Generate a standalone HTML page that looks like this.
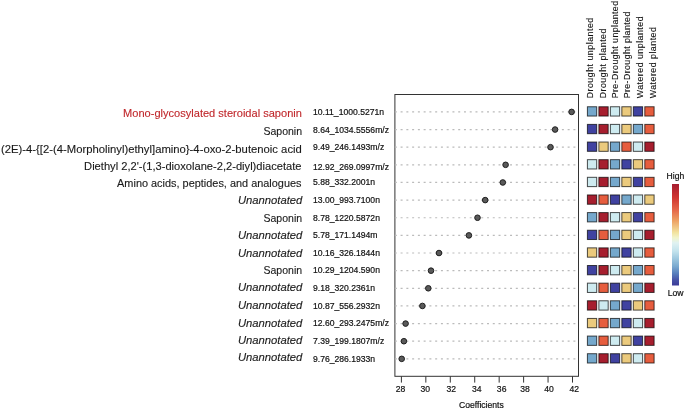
<!DOCTYPE html><html><head><meta charset="utf-8"><style>html,body{margin:0;padding:0;background:#fff;}svg{display:block;filter:blur(0.3px);}text{font-family:"Liberation Sans",sans-serif;}.s{stroke:#111;stroke-width:0.2px;}</style></head><body>
<svg width="685" height="409" viewBox="0 0 685 409">
<defs><linearGradient id="g" x1="0" y1="0" x2="0" y2="1"><stop offset="0" stop-color="#a51d30"/><stop offset="0.13" stop-color="#cf3430"/><stop offset="0.26" stop-color="#e6694a"/><stop offset="0.36" stop-color="#eda062"/><stop offset="0.48" stop-color="#f2e4a0"/><stop offset="0.53" stop-color="#f1f4cc"/><stop offset="0.58" stop-color="#e0f2f2"/><stop offset="0.66" stop-color="#c3e3ed"/><stop offset="0.73" stop-color="#a0cae0"/><stop offset="0.81" stop-color="#7aaad0"/><stop offset="0.88" stop-color="#5880bd"/><stop offset="0.95" stop-color="#4550a5"/><stop offset="1" stop-color="#3b3a98"/></linearGradient></defs>
<text x="123.10" y="117.00" font-size="10.7" fill="#c0282c" stroke="#c0282c" stroke-width="0.12" textLength="178.80" lengthAdjust="spacingAndGlyphs">Mono-glycosylated steroidal saponin</text>
<text x="313.0" y="114.60" font-size="8.6" fill="#111" class="s">10.11_1000.5271n</text>
<text x="263.40" y="134.60" font-size="10.7" fill="#1a1a1a" stroke="#1a1a1a" stroke-width="0.12" textLength="38.70" lengthAdjust="spacingAndGlyphs">Saponin</text>
<text x="313.0" y="132.60" font-size="8.6" fill="#111" class="s">8.64_1034.5556m/z</text>
<text x="1.00" y="152.50" font-size="10.7" fill="#1a1a1a" stroke="#1a1a1a" stroke-width="0.12" textLength="300.80" lengthAdjust="spacingAndGlyphs">(2E)-4-{[2-(4-Morpholinyl)ethyl]amino}-4-oxo-2-butenoic acid</text>
<text x="313.0" y="150.20" font-size="8.6" fill="#111" class="s">9.49_246.1493m/z</text>
<text x="84.10" y="169.70" font-size="10.7" fill="#1a1a1a" stroke="#1a1a1a" stroke-width="0.12" textLength="217.40" lengthAdjust="spacingAndGlyphs">Diethyl 2,2'-(1,3-dioxolane-2,2-diyl)diacetate</text>
<text x="313.0" y="169.70" font-size="8.6" fill="#111" class="s">12.92_269.0997m/z</text>
<text x="117.10" y="186.50" font-size="10.7" fill="#1a1a1a" stroke="#1a1a1a" stroke-width="0.12" textLength="184.40" lengthAdjust="spacingAndGlyphs">Amino acids, peptides, and analogues</text>
<text x="313.0" y="185.20" font-size="8.6" fill="#111" class="s">5.88_332.2001n</text>
<text x="237.90" y="204.20" font-size="10.7" fill="#1a1a1a" stroke="#1a1a1a" stroke-width="0.12" font-style="italic" textLength="64.50" lengthAdjust="spacingAndGlyphs">Unannotated</text>
<text x="313.0" y="203.20" font-size="8.6" fill="#111" class="s">13.00_993.7100n</text>
<text x="263.50" y="221.80" font-size="10.7" fill="#1a1a1a" stroke="#1a1a1a" stroke-width="0.12" textLength="38.60" lengthAdjust="spacingAndGlyphs">Saponin</text>
<text x="313.0" y="220.70" font-size="8.6" fill="#111" class="s">8.78_1220.5872n</text>
<text x="237.90" y="239.40" font-size="10.7" fill="#1a1a1a" stroke="#1a1a1a" stroke-width="0.12" font-style="italic" textLength="64.50" lengthAdjust="spacingAndGlyphs">Unannotated</text>
<text x="313.0" y="238.40" font-size="8.6" fill="#111" class="s">5.78_171.1494m</text>
<text x="237.90" y="256.80" font-size="10.7" fill="#1a1a1a" stroke="#1a1a1a" stroke-width="0.12" font-style="italic" textLength="64.50" lengthAdjust="spacingAndGlyphs">Unannotated</text>
<text x="313.0" y="255.90" font-size="8.6" fill="#111" class="s">10.16_326.1844n</text>
<text x="263.50" y="273.80" font-size="10.7" fill="#1a1a1a" stroke="#1a1a1a" stroke-width="0.12" textLength="38.60" lengthAdjust="spacingAndGlyphs">Saponin</text>
<text x="313.0" y="273.40" font-size="8.6" fill="#111" class="s">10.29_1204.590n</text>
<text x="237.90" y="291.40" font-size="10.7" fill="#1a1a1a" stroke="#1a1a1a" stroke-width="0.12" font-style="italic" textLength="64.50" lengthAdjust="spacingAndGlyphs">Unannotated</text>
<text x="313.0" y="291.20" font-size="8.6" fill="#111" class="s">9.18_320.2361n</text>
<text x="237.90" y="308.60" font-size="10.7" fill="#1a1a1a" stroke="#1a1a1a" stroke-width="0.12" font-style="italic" textLength="64.50" lengthAdjust="spacingAndGlyphs">Unannotated</text>
<text x="313.0" y="308.70" font-size="8.6" fill="#111" class="s">10.87_556.2932n</text>
<text x="237.90" y="326.50" font-size="10.7" fill="#1a1a1a" stroke="#1a1a1a" stroke-width="0.12" font-style="italic" textLength="64.50" lengthAdjust="spacingAndGlyphs">Unannotated</text>
<text x="313.0" y="326.40" font-size="8.6" fill="#111" class="s">12.60_293.2475m/z</text>
<text x="237.90" y="343.90" font-size="10.7" fill="#1a1a1a" stroke="#1a1a1a" stroke-width="0.12" font-style="italic" textLength="64.50" lengthAdjust="spacingAndGlyphs">Unannotated</text>
<text x="313.0" y="343.70" font-size="8.6" fill="#111" class="s">7.39_199.1807m/z</text>
<text x="237.90" y="360.60" font-size="10.7" fill="#1a1a1a" stroke="#1a1a1a" stroke-width="0.12" font-style="italic" textLength="64.50" lengthAdjust="spacingAndGlyphs">Unannotated</text>
<text x="313.0" y="361.60" font-size="8.6" fill="#111" class="s">9.76_286.1933n</text>
<rect x="394.9" y="94.5" width="183.6" height="281.8" fill="none" stroke="#333" stroke-width="1"/>
<line x1="394.84" y1="111.90" x2="578.0" y2="111.90" stroke="#bbb" stroke-width="1.2" stroke-dasharray="2 3.76"/>
<line x1="394.84" y1="129.54" x2="578.0" y2="129.54" stroke="#bbb" stroke-width="1.2" stroke-dasharray="2 3.76"/>
<line x1="394.84" y1="147.18" x2="578.0" y2="147.18" stroke="#bbb" stroke-width="1.2" stroke-dasharray="2 3.76"/>
<line x1="394.84" y1="164.82" x2="578.0" y2="164.82" stroke="#bbb" stroke-width="1.2" stroke-dasharray="2 3.76"/>
<line x1="394.84" y1="182.46" x2="578.0" y2="182.46" stroke="#bbb" stroke-width="1.2" stroke-dasharray="2 3.76"/>
<line x1="394.84" y1="200.10" x2="578.0" y2="200.10" stroke="#bbb" stroke-width="1.2" stroke-dasharray="2 3.76"/>
<line x1="394.84" y1="217.74" x2="578.0" y2="217.74" stroke="#bbb" stroke-width="1.2" stroke-dasharray="2 3.76"/>
<line x1="394.84" y1="235.38" x2="578.0" y2="235.38" stroke="#bbb" stroke-width="1.2" stroke-dasharray="2 3.76"/>
<line x1="394.84" y1="253.02" x2="578.0" y2="253.02" stroke="#bbb" stroke-width="1.2" stroke-dasharray="2 3.76"/>
<line x1="394.84" y1="270.66" x2="578.0" y2="270.66" stroke="#bbb" stroke-width="1.2" stroke-dasharray="2 3.76"/>
<line x1="394.84" y1="288.30" x2="578.0" y2="288.30" stroke="#bbb" stroke-width="1.2" stroke-dasharray="2 3.76"/>
<line x1="394.84" y1="305.94" x2="578.0" y2="305.94" stroke="#bbb" stroke-width="1.2" stroke-dasharray="2 3.76"/>
<line x1="394.84" y1="323.58" x2="578.0" y2="323.58" stroke="#bbb" stroke-width="1.2" stroke-dasharray="2 3.76"/>
<line x1="394.84" y1="341.22" x2="578.0" y2="341.22" stroke="#bbb" stroke-width="1.2" stroke-dasharray="2 3.76"/>
<line x1="394.84" y1="358.86" x2="578.0" y2="358.86" stroke="#bbb" stroke-width="1.2" stroke-dasharray="2 3.76"/>
<circle cx="571.6" cy="111.90" r="2.8" fill="#5a5a5a" stroke="#1e1e1e" stroke-width="1"/>
<circle cx="555.1" cy="129.54" r="2.8" fill="#5a5a5a" stroke="#1e1e1e" stroke-width="1"/>
<circle cx="550.5" cy="147.18" r="2.8" fill="#5a5a5a" stroke="#1e1e1e" stroke-width="1"/>
<circle cx="505.6" cy="164.82" r="2.8" fill="#5a5a5a" stroke="#1e1e1e" stroke-width="1"/>
<circle cx="502.8" cy="182.46" r="2.8" fill="#5a5a5a" stroke="#1e1e1e" stroke-width="1"/>
<circle cx="485.2" cy="200.10" r="2.8" fill="#5a5a5a" stroke="#1e1e1e" stroke-width="1"/>
<circle cx="477.5" cy="217.74" r="2.8" fill="#5a5a5a" stroke="#1e1e1e" stroke-width="1"/>
<circle cx="468.9" cy="235.38" r="2.8" fill="#5a5a5a" stroke="#1e1e1e" stroke-width="1"/>
<circle cx="439.0" cy="253.02" r="2.8" fill="#5a5a5a" stroke="#1e1e1e" stroke-width="1"/>
<circle cx="431.0" cy="270.66" r="2.8" fill="#5a5a5a" stroke="#1e1e1e" stroke-width="1"/>
<circle cx="428.3" cy="288.30" r="2.8" fill="#5a5a5a" stroke="#1e1e1e" stroke-width="1"/>
<circle cx="422.4" cy="305.94" r="2.8" fill="#5a5a5a" stroke="#1e1e1e" stroke-width="1"/>
<circle cx="405.6" cy="323.58" r="2.8" fill="#5a5a5a" stroke="#1e1e1e" stroke-width="1"/>
<circle cx="403.9" cy="341.22" r="2.8" fill="#5a5a5a" stroke="#1e1e1e" stroke-width="1"/>
<circle cx="401.7" cy="358.86" r="2.8" fill="#5a5a5a" stroke="#1e1e1e" stroke-width="1"/>
<line x1="401.40" y1="376.3" x2="401.40" y2="382.6" stroke="#333" stroke-width="1"/>
<text x="400.50" y="391.8" font-size="8.6" text-anchor="middle" fill="#111" class="s">28</text>
<line x1="425.84" y1="376.3" x2="425.84" y2="382.6" stroke="#333" stroke-width="1"/>
<text x="425.30" y="391.8" font-size="8.6" text-anchor="middle" fill="#111" class="s">30</text>
<line x1="450.29" y1="376.3" x2="450.29" y2="382.6" stroke="#333" stroke-width="1"/>
<text x="451.30" y="391.8" font-size="8.6" text-anchor="middle" fill="#111" class="s">32</text>
<line x1="474.73" y1="376.3" x2="474.73" y2="382.6" stroke="#333" stroke-width="1"/>
<text x="476.80" y="391.8" font-size="8.6" text-anchor="middle" fill="#111" class="s">34</text>
<line x1="499.17" y1="376.3" x2="499.17" y2="382.6" stroke="#333" stroke-width="1"/>
<text x="501.65" y="391.8" font-size="8.6" text-anchor="middle" fill="#111" class="s">36</text>
<line x1="523.61" y1="376.3" x2="523.61" y2="382.6" stroke="#333" stroke-width="1"/>
<text x="525.10" y="391.8" font-size="8.6" text-anchor="middle" fill="#111" class="s">38</text>
<line x1="548.06" y1="376.3" x2="548.06" y2="382.6" stroke="#333" stroke-width="1"/>
<text x="549.10" y="391.8" font-size="8.6" text-anchor="middle" fill="#111" class="s">40</text>
<line x1="572.50" y1="376.3" x2="572.50" y2="382.6" stroke="#333" stroke-width="1"/>
<text x="574.20" y="391.8" font-size="8.6" text-anchor="middle" fill="#111" class="s">42</text>
<text x="481.4" y="407.8" font-size="8.6" text-anchor="middle" fill="#111" class="s">Coefficients</text>
<rect x="587.40" y="106.75" width="9.30" height="9.30" fill="#75a8cc" stroke="#000" stroke-opacity="0.7" stroke-width="1"/>
<rect x="598.88" y="106.75" width="9.30" height="9.30" fill="#a61e2e" stroke="#000" stroke-opacity="0.7" stroke-width="1"/>
<rect x="610.36" y="106.75" width="9.30" height="9.30" fill="#ceebf0" stroke="#000" stroke-opacity="0.7" stroke-width="1"/>
<rect x="621.84" y="106.75" width="9.30" height="9.30" fill="#ebca7d" stroke="#000" stroke-opacity="0.7" stroke-width="1"/>
<rect x="633.32" y="106.75" width="9.30" height="9.30" fill="#4042a0" stroke="#000" stroke-opacity="0.7" stroke-width="1"/>
<rect x="644.80" y="106.75" width="9.30" height="9.30" fill="#e65d3e" stroke="#000" stroke-opacity="0.7" stroke-width="1"/>
<rect x="587.40" y="124.39" width="9.30" height="9.30" fill="#4042a0" stroke="#000" stroke-opacity="0.7" stroke-width="1"/>
<rect x="598.88" y="124.39" width="9.30" height="9.30" fill="#a61e2e" stroke="#000" stroke-opacity="0.7" stroke-width="1"/>
<rect x="610.36" y="124.39" width="9.30" height="9.30" fill="#ceebf0" stroke="#000" stroke-opacity="0.7" stroke-width="1"/>
<rect x="621.84" y="124.39" width="9.30" height="9.30" fill="#ebca7d" stroke="#000" stroke-opacity="0.7" stroke-width="1"/>
<rect x="633.32" y="124.39" width="9.30" height="9.30" fill="#75a8cc" stroke="#000" stroke-opacity="0.7" stroke-width="1"/>
<rect x="644.80" y="124.39" width="9.30" height="9.30" fill="#e65d3e" stroke="#000" stroke-opacity="0.7" stroke-width="1"/>
<rect x="587.40" y="142.03" width="9.30" height="9.30" fill="#4042a0" stroke="#000" stroke-opacity="0.7" stroke-width="1"/>
<rect x="598.88" y="142.03" width="9.30" height="9.30" fill="#ebca7d" stroke="#000" stroke-opacity="0.7" stroke-width="1"/>
<rect x="610.36" y="142.03" width="9.30" height="9.30" fill="#75a8cc" stroke="#000" stroke-opacity="0.7" stroke-width="1"/>
<rect x="621.84" y="142.03" width="9.30" height="9.30" fill="#e65d3e" stroke="#000" stroke-opacity="0.7" stroke-width="1"/>
<rect x="633.32" y="142.03" width="9.30" height="9.30" fill="#ceebf0" stroke="#000" stroke-opacity="0.7" stroke-width="1"/>
<rect x="644.80" y="142.03" width="9.30" height="9.30" fill="#a61e2e" stroke="#000" stroke-opacity="0.7" stroke-width="1"/>
<rect x="587.40" y="159.67" width="9.30" height="9.30" fill="#ceebf0" stroke="#000" stroke-opacity="0.7" stroke-width="1"/>
<rect x="598.88" y="159.67" width="9.30" height="9.30" fill="#a61e2e" stroke="#000" stroke-opacity="0.7" stroke-width="1"/>
<rect x="610.36" y="159.67" width="9.30" height="9.30" fill="#75a8cc" stroke="#000" stroke-opacity="0.7" stroke-width="1"/>
<rect x="621.84" y="159.67" width="9.30" height="9.30" fill="#4042a0" stroke="#000" stroke-opacity="0.7" stroke-width="1"/>
<rect x="633.32" y="159.67" width="9.30" height="9.30" fill="#ebca7d" stroke="#000" stroke-opacity="0.7" stroke-width="1"/>
<rect x="644.80" y="159.67" width="9.30" height="9.30" fill="#e65d3e" stroke="#000" stroke-opacity="0.7" stroke-width="1"/>
<rect x="587.40" y="177.31" width="9.30" height="9.30" fill="#ceebf0" stroke="#000" stroke-opacity="0.7" stroke-width="1"/>
<rect x="598.88" y="177.31" width="9.30" height="9.30" fill="#a61e2e" stroke="#000" stroke-opacity="0.7" stroke-width="1"/>
<rect x="610.36" y="177.31" width="9.30" height="9.30" fill="#75a8cc" stroke="#000" stroke-opacity="0.7" stroke-width="1"/>
<rect x="621.84" y="177.31" width="9.30" height="9.30" fill="#ebca7d" stroke="#000" stroke-opacity="0.7" stroke-width="1"/>
<rect x="633.32" y="177.31" width="9.30" height="9.30" fill="#4042a0" stroke="#000" stroke-opacity="0.7" stroke-width="1"/>
<rect x="644.80" y="177.31" width="9.30" height="9.30" fill="#e65d3e" stroke="#000" stroke-opacity="0.7" stroke-width="1"/>
<rect x="587.40" y="194.95" width="9.30" height="9.30" fill="#a61e2e" stroke="#000" stroke-opacity="0.7" stroke-width="1"/>
<rect x="598.88" y="194.95" width="9.30" height="9.30" fill="#e65d3e" stroke="#000" stroke-opacity="0.7" stroke-width="1"/>
<rect x="610.36" y="194.95" width="9.30" height="9.30" fill="#4042a0" stroke="#000" stroke-opacity="0.7" stroke-width="1"/>
<rect x="621.84" y="194.95" width="9.30" height="9.30" fill="#75a8cc" stroke="#000" stroke-opacity="0.7" stroke-width="1"/>
<rect x="633.32" y="194.95" width="9.30" height="9.30" fill="#ceebf0" stroke="#000" stroke-opacity="0.7" stroke-width="1"/>
<rect x="644.80" y="194.95" width="9.30" height="9.30" fill="#ebca7d" stroke="#000" stroke-opacity="0.7" stroke-width="1"/>
<rect x="587.40" y="212.59" width="9.30" height="9.30" fill="#75a8cc" stroke="#000" stroke-opacity="0.7" stroke-width="1"/>
<rect x="598.88" y="212.59" width="9.30" height="9.30" fill="#a61e2e" stroke="#000" stroke-opacity="0.7" stroke-width="1"/>
<rect x="610.36" y="212.59" width="9.30" height="9.30" fill="#ceebf0" stroke="#000" stroke-opacity="0.7" stroke-width="1"/>
<rect x="621.84" y="212.59" width="9.30" height="9.30" fill="#ebca7d" stroke="#000" stroke-opacity="0.7" stroke-width="1"/>
<rect x="633.32" y="212.59" width="9.30" height="9.30" fill="#4042a0" stroke="#000" stroke-opacity="0.7" stroke-width="1"/>
<rect x="644.80" y="212.59" width="9.30" height="9.30" fill="#e65d3e" stroke="#000" stroke-opacity="0.7" stroke-width="1"/>
<rect x="587.40" y="230.23" width="9.30" height="9.30" fill="#4042a0" stroke="#000" stroke-opacity="0.7" stroke-width="1"/>
<rect x="598.88" y="230.23" width="9.30" height="9.30" fill="#e65d3e" stroke="#000" stroke-opacity="0.7" stroke-width="1"/>
<rect x="610.36" y="230.23" width="9.30" height="9.30" fill="#75a8cc" stroke="#000" stroke-opacity="0.7" stroke-width="1"/>
<rect x="621.84" y="230.23" width="9.30" height="9.30" fill="#ebca7d" stroke="#000" stroke-opacity="0.7" stroke-width="1"/>
<rect x="633.32" y="230.23" width="9.30" height="9.30" fill="#ceebf0" stroke="#000" stroke-opacity="0.7" stroke-width="1"/>
<rect x="644.80" y="230.23" width="9.30" height="9.30" fill="#a61e2e" stroke="#000" stroke-opacity="0.7" stroke-width="1"/>
<rect x="587.40" y="247.87" width="9.30" height="9.30" fill="#ebca7d" stroke="#000" stroke-opacity="0.7" stroke-width="1"/>
<rect x="598.88" y="247.87" width="9.30" height="9.30" fill="#a61e2e" stroke="#000" stroke-opacity="0.7" stroke-width="1"/>
<rect x="610.36" y="247.87" width="9.30" height="9.30" fill="#75a8cc" stroke="#000" stroke-opacity="0.7" stroke-width="1"/>
<rect x="621.84" y="247.87" width="9.30" height="9.30" fill="#4042a0" stroke="#000" stroke-opacity="0.7" stroke-width="1"/>
<rect x="633.32" y="247.87" width="9.30" height="9.30" fill="#ceebf0" stroke="#000" stroke-opacity="0.7" stroke-width="1"/>
<rect x="644.80" y="247.87" width="9.30" height="9.30" fill="#e65d3e" stroke="#000" stroke-opacity="0.7" stroke-width="1"/>
<rect x="587.40" y="265.51" width="9.30" height="9.30" fill="#4042a0" stroke="#000" stroke-opacity="0.7" stroke-width="1"/>
<rect x="598.88" y="265.51" width="9.30" height="9.30" fill="#a61e2e" stroke="#000" stroke-opacity="0.7" stroke-width="1"/>
<rect x="610.36" y="265.51" width="9.30" height="9.30" fill="#ceebf0" stroke="#000" stroke-opacity="0.7" stroke-width="1"/>
<rect x="621.84" y="265.51" width="9.30" height="9.30" fill="#ebca7d" stroke="#000" stroke-opacity="0.7" stroke-width="1"/>
<rect x="633.32" y="265.51" width="9.30" height="9.30" fill="#75a8cc" stroke="#000" stroke-opacity="0.7" stroke-width="1"/>
<rect x="644.80" y="265.51" width="9.30" height="9.30" fill="#e65d3e" stroke="#000" stroke-opacity="0.7" stroke-width="1"/>
<rect x="587.40" y="283.15" width="9.30" height="9.30" fill="#ceebf0" stroke="#000" stroke-opacity="0.7" stroke-width="1"/>
<rect x="598.88" y="283.15" width="9.30" height="9.30" fill="#e65d3e" stroke="#000" stroke-opacity="0.7" stroke-width="1"/>
<rect x="610.36" y="283.15" width="9.30" height="9.30" fill="#4042a0" stroke="#000" stroke-opacity="0.7" stroke-width="1"/>
<rect x="621.84" y="283.15" width="9.30" height="9.30" fill="#ebca7d" stroke="#000" stroke-opacity="0.7" stroke-width="1"/>
<rect x="633.32" y="283.15" width="9.30" height="9.30" fill="#75a8cc" stroke="#000" stroke-opacity="0.7" stroke-width="1"/>
<rect x="644.80" y="283.15" width="9.30" height="9.30" fill="#a61e2e" stroke="#000" stroke-opacity="0.7" stroke-width="1"/>
<rect x="587.40" y="300.79" width="9.30" height="9.30" fill="#a61e2e" stroke="#000" stroke-opacity="0.7" stroke-width="1"/>
<rect x="598.88" y="300.79" width="9.30" height="9.30" fill="#ceebf0" stroke="#000" stroke-opacity="0.7" stroke-width="1"/>
<rect x="610.36" y="300.79" width="9.30" height="9.30" fill="#75a8cc" stroke="#000" stroke-opacity="0.7" stroke-width="1"/>
<rect x="621.84" y="300.79" width="9.30" height="9.30" fill="#4042a0" stroke="#000" stroke-opacity="0.7" stroke-width="1"/>
<rect x="633.32" y="300.79" width="9.30" height="9.30" fill="#ebca7d" stroke="#000" stroke-opacity="0.7" stroke-width="1"/>
<rect x="644.80" y="300.79" width="9.30" height="9.30" fill="#e65d3e" stroke="#000" stroke-opacity="0.7" stroke-width="1"/>
<rect x="587.40" y="318.43" width="9.30" height="9.30" fill="#ebca7d" stroke="#000" stroke-opacity="0.7" stroke-width="1"/>
<rect x="598.88" y="318.43" width="9.30" height="9.30" fill="#e65d3e" stroke="#000" stroke-opacity="0.7" stroke-width="1"/>
<rect x="610.36" y="318.43" width="9.30" height="9.30" fill="#75a8cc" stroke="#000" stroke-opacity="0.7" stroke-width="1"/>
<rect x="621.84" y="318.43" width="9.30" height="9.30" fill="#4042a0" stroke="#000" stroke-opacity="0.7" stroke-width="1"/>
<rect x="633.32" y="318.43" width="9.30" height="9.30" fill="#ceebf0" stroke="#000" stroke-opacity="0.7" stroke-width="1"/>
<rect x="644.80" y="318.43" width="9.30" height="9.30" fill="#a61e2e" stroke="#000" stroke-opacity="0.7" stroke-width="1"/>
<rect x="587.40" y="336.07" width="9.30" height="9.30" fill="#75a8cc" stroke="#000" stroke-opacity="0.7" stroke-width="1"/>
<rect x="598.88" y="336.07" width="9.30" height="9.30" fill="#e65d3e" stroke="#000" stroke-opacity="0.7" stroke-width="1"/>
<rect x="610.36" y="336.07" width="9.30" height="9.30" fill="#ceebf0" stroke="#000" stroke-opacity="0.7" stroke-width="1"/>
<rect x="621.84" y="336.07" width="9.30" height="9.30" fill="#ebca7d" stroke="#000" stroke-opacity="0.7" stroke-width="1"/>
<rect x="633.32" y="336.07" width="9.30" height="9.30" fill="#4042a0" stroke="#000" stroke-opacity="0.7" stroke-width="1"/>
<rect x="644.80" y="336.07" width="9.30" height="9.30" fill="#a61e2e" stroke="#000" stroke-opacity="0.7" stroke-width="1"/>
<rect x="587.40" y="353.71" width="9.30" height="9.30" fill="#75a8cc" stroke="#000" stroke-opacity="0.7" stroke-width="1"/>
<rect x="598.88" y="353.71" width="9.30" height="9.30" fill="#a61e2e" stroke="#000" stroke-opacity="0.7" stroke-width="1"/>
<rect x="610.36" y="353.71" width="9.30" height="9.30" fill="#4042a0" stroke="#000" stroke-opacity="0.7" stroke-width="1"/>
<rect x="621.84" y="353.71" width="9.30" height="9.30" fill="#ebca7d" stroke="#000" stroke-opacity="0.7" stroke-width="1"/>
<rect x="633.32" y="353.71" width="9.30" height="9.30" fill="#ceebf0" stroke="#000" stroke-opacity="0.7" stroke-width="1"/>
<rect x="644.80" y="353.71" width="9.30" height="9.30" fill="#e65d3e" stroke="#000" stroke-opacity="0.7" stroke-width="1"/>
<text transform="translate(592.6,98.3) rotate(-90)" x="0" y="0" font-size="8.8" fill="#111" stroke="#111" stroke-width="0.12" textLength="80.5" lengthAdjust="spacing">Drought unplanted</text>
<text transform="translate(606.1,98.3) rotate(-90)" x="0" y="0" font-size="8.8" fill="#111" stroke="#111" stroke-width="0.12" textLength="69.7" lengthAdjust="spacing">Drought planted</text>
<text transform="translate(617.7,98.3) rotate(-90)" x="0" y="0" font-size="8.8" fill="#111" stroke="#111" stroke-width="0.12" textLength="97.4" lengthAdjust="spacing">Pre-Drought unplanted</text>
<text transform="translate(630.4,98.3) rotate(-90)" x="0" y="0" font-size="8.8" fill="#111" stroke="#111" stroke-width="0.12" textLength="86.6" lengthAdjust="spacing">Pre-Drought planted</text>
<text transform="translate(643.4,98.3) rotate(-90)" x="0" y="0" font-size="8.8" fill="#111" stroke="#111" stroke-width="0.12" textLength="81.9" lengthAdjust="spacing">Watered unplanted</text>
<text transform="translate(655.5,98.3) rotate(-90)" x="0" y="0" font-size="8.8" fill="#111" stroke="#111" stroke-width="0.12" textLength="71.2" lengthAdjust="spacing">Watered planted</text>
<text x="675.4" y="178.6" font-size="8.6" text-anchor="middle" fill="#111" class="s">High</text>
<rect x="672" y="184" width="7" height="101.5" fill="url(#g)"/>
<text x="675.6" y="296.3" font-size="8.6" text-anchor="middle" fill="#111" class="s">Low</text>
</svg></body></html>
